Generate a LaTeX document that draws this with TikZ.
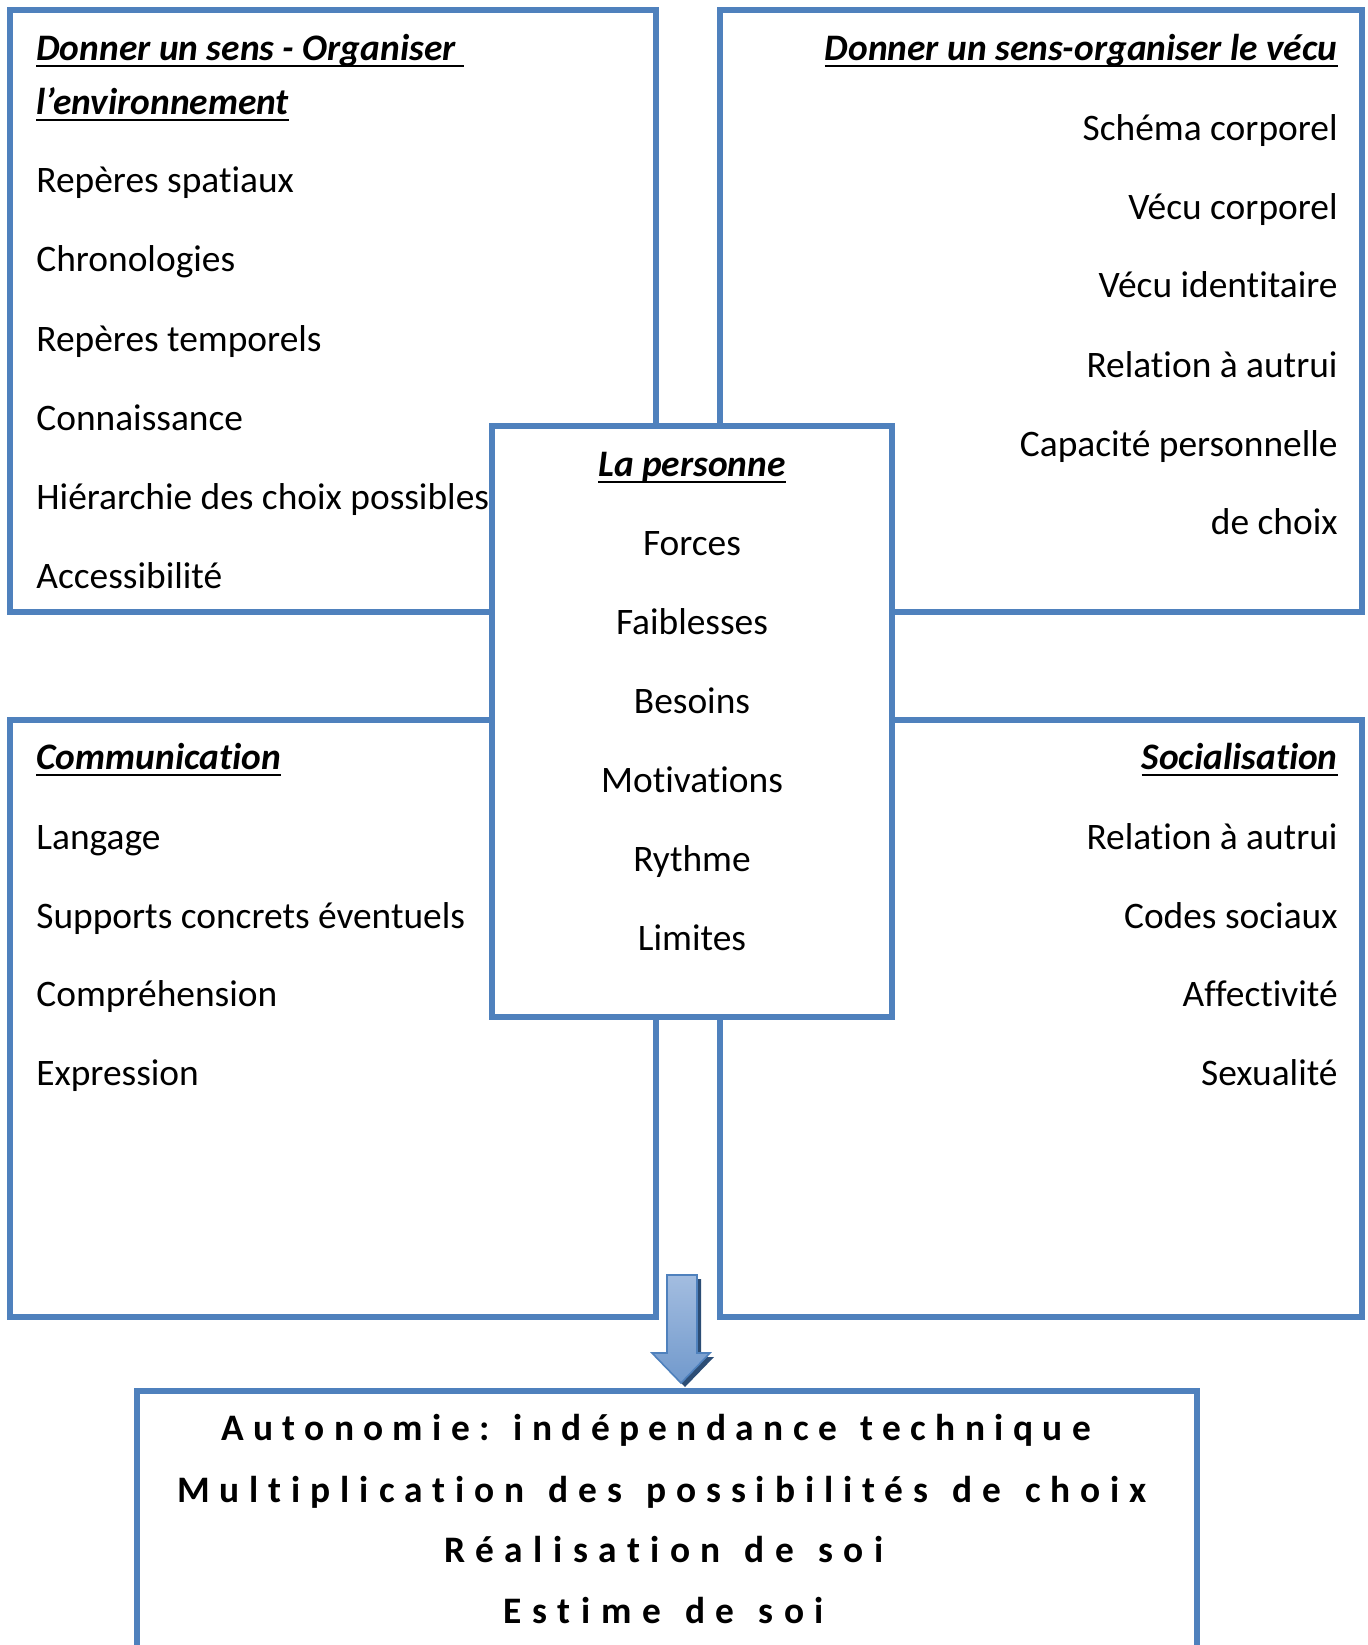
\documentclass[tikz,border=0pt]{standalone}
\usepackage{fontspec}
\setmainfont{Carlito}[Ligatures={TeX,NoCommon}]
\definecolor{bleu}{HTML}{4F81BD}
\definecolor{bleuclair}{HTML}{A3BDE0}
\definecolor{bleumoyen}{HTML}{7199CC}
\definecolor{bleufonce}{HTML}{2C4D75}
\newcommand\souligne[1]{\setbox0\hbox{#1}\rlap{\rule[-0.2em]{\wd0}{0.075em}}\box0}
\newcommand\espacemot{\frenchspacing\spaceskip=12pt\relax}

\tikzset{
  cadre/.style={draw=bleu,line width=3pt},
  texte/.style={inner sep=0pt,font=\fontsize{18.7}{22}\selectfont},
  titre/.style={texte,font=\fontsize{18.7}{22}\selectfont\bfseries\itshape},
  gras/.style={inner sep=0pt,font=\fontsize{18.7}{22}\selectfont\bfseries\addfontfeature{LetterSpace=#1},execute at begin node=\espacemot},
}

\begin{document}
\begin{tikzpicture}[x=0.5pt,y=-0.5pt]
\useasboundingbox (0,0) rectangle (1368,1645);
\clip (0,0) rectangle (1368,1645);
% les quatre cadres
\draw[cadre] (10,10) rectangle (656,612);
\draw[cadre] (720,10) rectangle (1362,612);
\draw[cadre] (10,720) rectangle (656,1317);
\draw[cadre] (720,720) rectangle (1362,1317);
% cadre central
\filldraw[cadre,fill=white] (492,426) rectangle (892,1017);
% cadre du bas
\draw[cadre] (137,1700) -- (137,1391) -- (1197,1391) -- (1197,1700);
% fleche
\fill[bleufonce] (671,1279) -- (701,1279) -- (701,1357) -- (714,1357) -- (685,1387) -- (656,1357) -- (671,1357) -- cycle;
\shade[top color=bleuclair,middle color=bleu,bottom color=bleumoyen,draw=bleu,line width=0.8pt]
  (667,1275) -- (697,1275) -- (697,1353) -- (710,1353) -- (681,1383) -- (652,1353) -- (667,1353) -- cycle;

\node[titre,anchor=base west] (tl0) at (36,60) {\souligne{Donner un sens - Organiser\ }};
\node[titre,anchor=base west] (tl1) at (36,114) {\souligne{l’environnement}};
\node[texte,anchor=base west] (tl2) at (36,192) {Repères spatiaux};
\node[texte,anchor=base west] (tl3) at (36,271) {Chronologies};
\node[texte,anchor=base west] (tl4) at (36,351) {Repères temporels};
\node[texte,anchor=base west] (tl5) at (36,430) {Connaissance};
\node[texte,anchor=base west] (tl6) at (36,509) {Hiérarchie des choix possibles};
\node[texte,anchor=base west] (tl7) at (36,588) {Accessibilité};

\node[titre,anchor=base east] (tr0) at (1338,60) {\souligne{Donner un sens-organiser le vécu}};
\node[texte,anchor=base east] (tr1) at (1338,140) {Schéma corporel};
\node[texte,anchor=base east] (tr2) at (1338,219) {Vécu corporel};
\node[texte,anchor=base east] (tr3) at (1338,297) {Vécu identitaire};
\node[texte,anchor=base east] (tr4) at (1338,377) {Relation à autrui};
\node[texte,anchor=base east] (tr5) at (1338,456) {Capacité personnelle};
\node[texte,anchor=base east] (tr6) at (1338,534) {de choix};

\node[titre,anchor=base] (c0) at (692,476) {\souligne{La personne}};
\node[texte,anchor=base] (c1) at (692,555) {Forces};
\node[texte,anchor=base] (c2) at (692,634) {Faiblesses};
\node[texte,anchor=base] (c3) at (692,713) {Besoins};
\node[texte,anchor=base] (c4) at (692,792) {Motivations};
\node[texte,anchor=base] (c5) at (692,871) {Rythme};
\node[texte,anchor=base] (c6) at (692,950) {Limites};

\node[titre,anchor=base west] (bl0) at (36,769) {\souligne{Communication}};
\node[texte,anchor=base west] (bl1) at (36,849) {Langage};
\node[texte,anchor=base west] (bl2) at (36,928) {Supports concrets éventuels};
\node[texte,anchor=base west] (bl3) at (36,1006) {Compréhension};
\node[texte,anchor=base west] (bl4) at (36,1085) {Expression};

\node[titre,anchor=base east] (br0) at (1338,769) {\souligne{Socialisation}};
\node[texte,anchor=base east] (br1) at (1338,849) {Relation à autrui};
\node[texte,anchor=base east] (br2) at (1338,928) {Codes sociaux};
\node[texte,anchor=base east] (br3) at (1338,1006) {Affectivité};
\node[texte,anchor=base east] (br4) at (1338,1085) {Sexualité};

\node[gras=25,anchor=base] (b1) at (656,1440) {Autonomie: indépendance technique};
\node[gras=26.5,anchor=base] (b2) at (662,1502) {Multiplication des possibilités de choix};
\node[gras=28,anchor=base] (b3) at (664,1562) {Réalisation de soi};
\node[gras=28.4,anchor=base] (b4) at (664,1623) {Estime de soi};
\end{tikzpicture}
\end{document}
